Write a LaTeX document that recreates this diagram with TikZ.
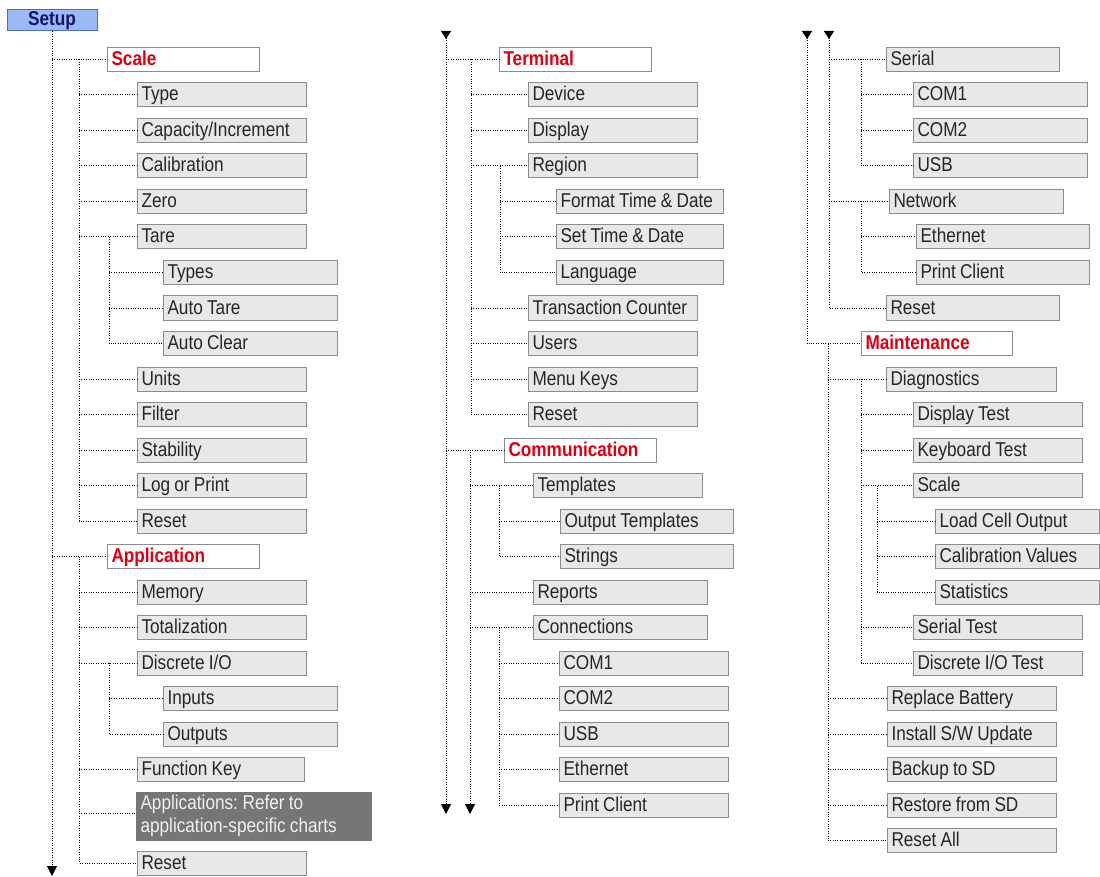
\documentclass[tikz,border=0pt]{standalone}
\usepackage{fontspec}
\setmainfont[FakeStretch=0.86]{Liberation Sans}
\usetikzlibrary{arrows.meta}

\definecolor{boxfill}{RGB}{232,232,232}
\definecolor{boxline}{RGB}{140,140,140}
\definecolor{headred}{RGB}{222,0,18}
\definecolor{setupfill}{RGB}{155,185,245}
\definecolor{setupline}{RGB}{80,110,185}
\definecolor{setuptext}{RGB}{20,20,110}
\definecolor{appfill}{RGB}{118,118,118}

\newcommand{\menufont}{\fontsize{20}{23}\selectfont}

\tikzset{
  item/.style={draw=boxline, fill=boxfill, line width=1pt, anchor=west,
    text width=#1, inner xsep=4pt, inner ysep=0pt, minimum height=24pt,
    text height=15pt, text depth=3pt, align=flush left, text=black!85,
    font=\menufont, execute at begin node={\spaceskip=4.2pt plus 1pt minus 1pt\xspaceskip=4.6pt\relax}},
  item/.default=161pt,
  head/.style={item=#1, fill=white, text=headred, font=\menufont\bfseries},
  head/.default=144pt,
  link/.style={line width=1pt, dash pattern=on 1pt off 1.4pt},
  tip/.style={-{Triangle[width=10pt,length=10pt]}},
  cont/.style={{Triangle[reversed,width=10pt,length=8pt]}-},
  conttip/.style={{Triangle[reversed,width=10pt,length=8pt]}-{Triangle[width=10pt,length=10pt]}},
}

\begin{document}
\begin{tikzpicture}[x=1pt,y=-1pt]
    \useasboundingbox (0,0) rectangle (1100,877);

    % first column
    \node[draw=setupline, fill=setupfill, line width=1pt, minimum width=90pt,
      minimum height=21pt, inner sep=0pt, text=setuptext,
      font=\menufont\bfseries] (setup) at (52,20.5) {Setup};
    \node[head] (scale) at (107,59.5) {Scale};
    \node[item] (type) at (137,95) {Type};
    \node[item] (capinc) at (137,130.5) {Capacity/Increment};
    \node[item] (calib) at (137,166) {Calibration};
    \node[item] (zero) at (137,201.5) {Zero};
    \node[item] (tare) at (137,237) {Tare};
    \node[item=166pt] (tTypes) at (163,272.5) {Types};
    \node[item=166pt] (tAuto) at (163,308) {Auto Tare};
    \node[item=166pt] (tClear) at (163,343.5) {Auto Clear};
    \node[item] (units) at (137,379) {Units};
    \node[item] (filter) at (137,414.5) {Filter};
    \node[item] (stab) at (137,450) {Stability};
    \node[item] (logprint) at (137,485.5) {Log or Print};
    \node[item] (sReset) at (137,521) {Reset};
    \node[head] (appl) at (107,556.5) {Application};
    \node[item] (memory) at (137,592) {Memory};
    \node[item] (total) at (137,627.5) {Totalization};
    \node[item] (dio) at (137,663) {Discrete I/O};
    \node[item=166pt] (inputs) at (163,698.5) {Inputs};
    \node[item=166pt] (outputs) at (163,734) {Outputs};
    \node[item=159pt] (fkey) at (137,769.5) {Function Key};
    \node[item=227pt, fill=appfill, draw=appfill, text=white!94!black,
      text height=, text depth=, minimum height=48pt] (apps) at (136,816)
      {Applications: Refer to\\application-specific charts};
    \node[item] (aReset) at (137,863) {Reset};

    \coordinate (end1) at (52,876);
    \draw[link,tip] (setup.south) -- (end1);
    \draw[link] (setup.south |- scale.west) -- (scale.west);
    \draw[link] (setup.south |- appl.west) -- (appl.west);
    \coordinate (sbus) at (79,59.5);
    \draw[link] (sbus) |- (sReset.west);
    \foreach \n in {type,capinc,calib,zero,tare,units,filter,stab,logprint}
        \draw[link] (sbus |- \n.west) -- (\n.west);
    \coordinate (tbus) at (109,237);
    \draw[link] (tbus) |- (tClear.west);
    \draw[link] (tbus |- tTypes.west) -- (tTypes.west);
    \draw[link] (tbus |- tAuto.west) -- (tAuto.west);
    \coordinate (abus) at (79,556.5);
    \draw[link] (abus) |- (aReset.west);
    \foreach \n in {memory,total,dio,fkey}
        \draw[link] (abus |- \n.west) -- (\n.west);
    \draw[link] (abus |- 0,813) -- (apps.west |- 0,813);
    \coordinate (dbus) at (109,663);
    \draw[link] (dbus) |- (outputs.west);
    \draw[link] (dbus |- inputs.west) -- (inputs.west);

    % second column
    \node[head] (term) at (499,59.5) {Terminal};
    \node[item] (device) at (528,95) {Device};
    \node[item] (display) at (528,130.5) {Display};
    \node[item] (region) at (528,166) {Region};
    \node[item=159pt] (fmtTime) at (556,201.5) {Format Time \& Date};
    \node[item=159pt] (setTime) at (556,237) {Set Time \& Date};
    \node[item=159pt] (lang) at (556,272.5) {Language};
    \node[item] (trans) at (528,308) {Transaction Counter};
    \node[item] (users) at (528,343.5) {Users};
    \node[item] (menukeys) at (528,379) {Menu Keys};
    \node[item] (tReset) at (528,414.5) {Reset};
    \node[head] (comm) at (504,450) {Communication};
    \node[item] (templ) at (533,485.5) {Templates};
    \node[item=165pt] (outTempl) at (560,521) {Output Templates};
    \node[item=165pt] (strings) at (560,556.5) {Strings};
    \node[item=166pt] (reports) at (533,592) {Reports};
    \node[item=166pt] (conn) at (533,627.5) {Connections};
    \node[item] (com1) at (559,663) {COM1};
    \node[item] (com2) at (559,698.5) {COM2};
    \node[item] (usb) at (559,734) {USB};
    \node[item] (eth) at (559,769.5) {Ethernet};
    \node[item] (pclient) at (559,805) {Print Client};

    \coordinate (top2) at (446,31);
    \coordinate (end2) at (446,814);
    \draw[link,conttip] (top2) -- (end2);
    \draw[link] (top2 |- term.west) -- (term.west);
    \draw[link] (top2 |- comm.west) -- (comm.west);
    \coordinate (tmbus) at (471,59.5);
    \draw[link] (tmbus) |- (tReset.west);
    \foreach \n in {device,display,region,trans,users,menukeys}
        \draw[link] (tmbus |- \n.west) -- (\n.west);
    \coordinate (rgbus) at (500,166);
    \draw[link] (rgbus) |- (lang.west);
    \draw[link] (rgbus |- fmtTime.west) -- (fmtTime.west);
    \draw[link] (rgbus |- setTime.west) -- (setTime.west);
    \coordinate (cmbus) at (470,450);
    \coordinate (end3) at (470,814);
    \draw[link,tip] (cmbus) -- (end3);
    \foreach \n in {templ,reports,conn}
        \draw[link] (cmbus |- \n.west) -- (\n.west);
    \coordinate (tpbus) at (499,485.5);
    \draw[link] (tpbus) |- (strings.west);
    \draw[link] (tpbus |- outTempl.west) -- (outTempl.west);
    \coordinate (cnbus) at (499,627.5);
    \draw[link] (cnbus) |- (pclient.west);
    \foreach \n in {com1,com2,usb,eth}
        \draw[link] (cnbus |- \n.west) -- (\n.west);

    % third column
    \node[item=165pt] (serial) at (886,59.5) {Serial};
    \node[item=166pt] (scom1) at (913,95) {COM1};
    \node[item=166pt] (scom2) at (913,130.5) {COM2};
    \node[item=166pt] (susb) at (913,166) {USB};
    \node[item=166pt] (network) at (889,201.5) {Network};
    \node[item=165pt] (neth) at (916,237) {Ethernet};
    \node[item=165pt] (nprint) at (916,272.5) {Print Client};
    \node[item=165pt] (nReset) at (886,308) {Reset};
    \node[head=143pt] (maint) at (861,343.5) {Maintenance};
    \node[item=162pt] (diag) at (886,379) {Diagnostics};
    \node[item] (dispTest) at (913,414.5) {Display Test};
    \node[item] (kbTest) at (913,450) {Keyboard Test};
    \node[item] (mScale) at (913,485.5) {Scale};
    \node[item=156pt] (loadCell) at (935,521) {Load Cell Output};
    \node[item=156pt] (calVal) at (935,556.5) {Calibration Values};
    \node[item=156pt] (stats) at (935,592) {Statistics};
    \node[item] (serTest) at (913,627.5) {Serial Test};
    \node[item] (dioTest) at (913,663) {Discrete I/O Test};
    \node[item] (battery) at (887,698.5) {Replace Battery};
    \node[item] (swUpd) at (887,734) {Install S/W Update};
    \node[item] (backup) at (887,769.5) {Backup to SD};
    \node[item] (restore) at (887,805) {Restore from SD};
    \node[item] (resetAll) at (887,840.5) {Reset All};

    \coordinate (top3) at (807,31);
    \coordinate (top4) at (829,31);
    \draw[link,cont] (top3) |- (maint.west);
    \draw[link,cont] (top4) |- (nReset.west);
    \draw[link] (top4 |- serial.west) -- (serial.west);
    \draw[link] (top4 |- network.west) -- (network.west);
    \coordinate (srbus) at (861,59.5);
    \draw[link] (srbus) |- (susb.west);
    \draw[link] (srbus |- scom1.west) -- (scom1.west);
    \draw[link] (srbus |- scom2.west) -- (scom2.west);
    \coordinate (nwbus) at (861,201.5);
    \draw[link] (nwbus) |- (nprint.west);
    \draw[link] (nwbus |- neth.west) -- (neth.west);
    \coordinate (mtbus) at (828,343.5);
    \draw[link] (mtbus) |- (resetAll.west);
    \foreach \n in {diag,battery,swUpd,backup,restore}
        \draw[link] (mtbus |- \n.west) -- (\n.west);
    \coordinate (dgbus) at (861,379);
    \draw[link] (dgbus) |- (dioTest.west);
    \foreach \n in {dispTest,kbTest,mScale,serTest}
        \draw[link] (dgbus |- \n.west) -- (\n.west);
    \coordinate (scbus) at (877,485.5);
    \draw[link] (scbus) |- (stats.west);
    \draw[link] (scbus |- loadCell.west) -- (loadCell.west);
    \draw[link] (scbus |- calVal.west) -- (calVal.west);
\end{tikzpicture}
\end{document}
